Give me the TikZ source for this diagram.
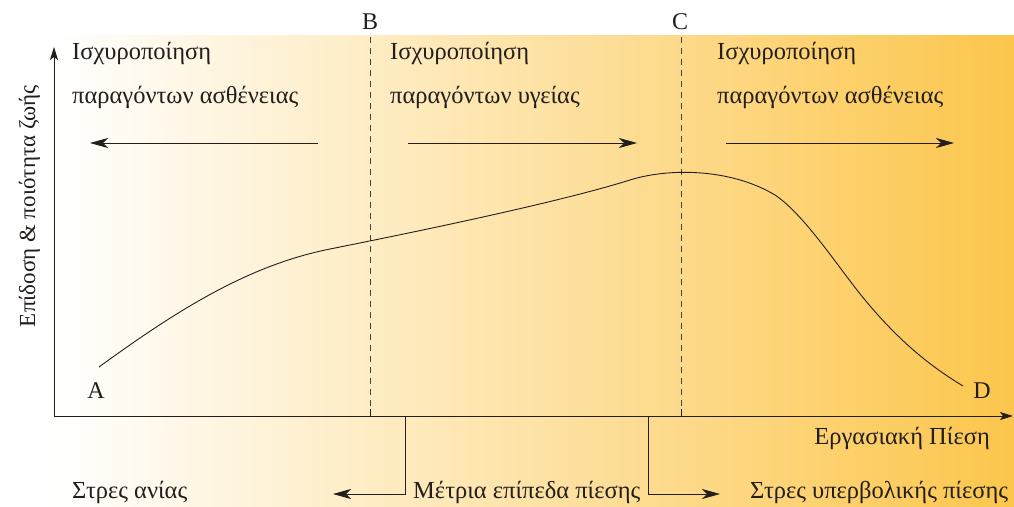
\documentclass[tikz,border=0pt]{standalone}
\usepackage{fontspec}
\setmainfont{Liberation Serif}
\usetikzlibrary{arrows.meta}
\definecolor{orangeR}{RGB}{252,198,76}
\definecolor{inkc}{RGB}{34,30,28}
\definecolor{dashc}{RGB}{70,64,58}
\tikzset{
  lbl/.style={font=\fontsize{24.5}{28}\selectfont, text=inkc, inner sep=0pt, anchor=base west},
  ptl/.style={font=\fontsize{24}{28}\selectfont, text=inkc, inner sep=0pt, anchor=base},
  arr/.style={draw=inkc, line width=0.8pt, -{Stealth[length=18pt,width=10pt,inset=5pt]}},
  axisln/.style={draw=inkc, line width=0.9pt, -{Stealth[length=13pt,width=8pt,inset=3pt]}},
  dashln/.style={draw=dashc, line width=0.8pt, dash pattern=on 6pt off 5pt},
}
\begin{document}
\begin{tikzpicture}[x=1pt,y=-1pt]
\useasboundingbox (0,0) rectangle (1014,506);
\fill[white] (0,0) rectangle (1014,506);
\shade[left color=white, right color=orangeR] (54,35) rectangle (1014,506);

% coordinates
\coordinate (O) at (54,416);
\coordinate (Ytop) at (54,47);
\coordinate (Xend) at (1013,416);
\coordinate (Btop) at (370,37);
\coordinate (Bbot) at (370,416);
\coordinate (Ctop) at (681,37);
\coordinate (Cbot) at (681,416);

% dashed lines
\draw[dashln] (Btop) -- (Bbot);
\draw[dashln] (Ctop) -- (Cbot);

% axes
\draw[axisln] (O) -- (Ytop);
\draw[axisln] (O) -- (Xend);

% labels B, C
\node[ptl] (lB) at (370,29) {B};
\node[ptl] (lC) at (680,29) {C};

% top texts
\node[lbl] (t1a) at (72,59) {Ισχυροποίηση};
\node[lbl] (t1b) at (72,103) {παραγόντων ασθένειας};
\node[lbl] (t2a) at (390,59) {Ισχυροποίηση};
\node[lbl] (t2b) at (390,103) {παραγόντων υγείας};
\node[lbl] (t3a) at (717,59) {Ισχυροποίηση};
\node[lbl] (t3b) at (717,103) {παραγόντων ασθένειας};

% top arrows
\coordinate (a1s) at (318,143); \coordinate (a1e) at (90,143);
\coordinate (a2s) at (408,143); \coordinate (a2e) at (637,143);
\coordinate (a3s) at (726,143); \coordinate (a3e) at (954,143);
\draw[arr] (a1s) -- (a1e);
\draw[arr] (a2s) -- (a2e);
\draw[arr] (a3s) -- (a3e);

% curve
\draw[draw=inkc, line width=0.9pt]
  (99,367) .. controls (180,308) and (250,265) .. (330,249)
  .. controls (420,231) and (560,202) .. (630,180)
  .. controls (668,168) and (730,168) .. (775,195)
  .. controls (805,215) and (840,270) .. (865,300)
  .. controls (900,342) and (930,366) .. (963,386);

\node[ptl] (lA) at (96,398) {A};
\node[ptl] (lD) at (982,398) {D};

% y label
\node[font=\fontsize{23}{27}\selectfont, text=inkc, inner sep=0pt, rotate=90, anchor=base] (ylab) at (35,206) {Επίδοση \& ποιότητα ζωής};

% x label
\node[lbl, anchor=base east] (xlab) at (990,444) {Εργασιακή Πίεση};

% bottom
\node[lbl] (s1) at (72,498) {Στρες ανίας};
\node[lbl] (s2) at (413,498) {Μέτρια επίπεδα πίεσης};
\node[lbl] (s3) at (750,498) {Στρες υπερβολικής πίεσης};

\coordinate (m1t) at (405,416); \coordinate (m1b) at (405,494); \coordinate (m1e) at (333,494);
\coordinate (m2t) at (648,416); \coordinate (m2b) at (648,494); \coordinate (m2e) at (720,494);
\draw[arr] (m1t) -- (m1b) -- (m1e);
\draw[arr] (m2t) -- (m2b) -- (m2e);

% ticks
\coordinate (k1) at (370,409); \coordinate (k2) at (681,409);
\draw[draw=inkc, line width=0.8pt] (k1) -- (Bbot);
\draw[draw=inkc, line width=0.8pt] (k2) -- (Cbot);
\end{tikzpicture}
\end{document}
